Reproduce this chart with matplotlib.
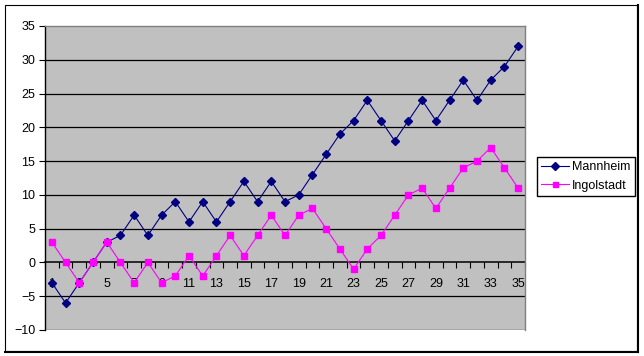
import matplotlib
matplotlib.use("Agg")

import matplotlib.pyplot as plt
from matplotlib.patches import Rectangle
import numpy as np

plt.rcParams["font.family"] = ["Liberation Sans", "DejaVu Sans"]

categories = list(range(1, 36))
mannheim = [-3, -6, -3, 0, 3, 4, 7, 4, 7, 9, 6, 9, 6, 9, 12, 9, 12, 9, 10, 13,
            16, 19, 21, 24, 21, 18, 21, 24, 21, 24, 27, 24, 27, 29, 32]
ingolstadt = [3, 0, -3, 0, 3, 0, -3, 0, -3, -2, 1, -2, 1, 4, 1, 4, 7, 4, 7, 8,
              5, 2, -1, 2, 4, 7, 10, 11, 8, 11, 14, 15, 17, 14, 11]
y_ticks = list(range(-10, 36, 5))

W, H = 644, 356
fig = plt.figure(figsize=(W / 100, H / 100), dpi=100)
ax = fig.add_axes([45 / W, (H - 330) / H, 480 / W, 304 / H])
ax.set_facecolor("#C0C0C0")

# outer chart frame with a slightly heavier right/bottom edge
fig.patches.append(Rectangle((5 / W, 5 / H), 632 / W, 346 / H, transform=fig.transFigure,
                             fill=False, edgecolor="black", linewidth=0.8))
fig.lines.append(plt.Line2D([637.5 / W, 637.5 / W], [4 / H, 351 / H], transform=fig.transFigure,
                            color="black", linewidth=1.5))
fig.lines.append(plt.Line2D([5 / W, 638 / W], [4.5 / H, 4.5 / H], transform=fig.transFigure,
                            color="black", linewidth=1.5))

for y in y_ticks:
    if y != 0 and y != y_ticks[-1]:
        ax.axhline(y, color="black", linewidth=0.9, zorder=1)

ax.plot(categories, mannheim, color="#000080", marker="D", markersize=4.5,
        linewidth=0.8, label="Mannheim", zorder=3)
ax.plot(categories, ingolstadt, color="#FF00FF", marker="s", markersize=4.5,
        linewidth=0.8, label="Ingolstadt", zorder=3)

ax.set_xlim(0.5, 35.5)
ax.set_ylim(-10, 35)

ax.spines["bottom"].set_position(("data", 0))
ax.spines["bottom"].set_linewidth(1.1)
ax.spines["bottom"].set_zorder(2)
ax.spines["left"].set_linewidth(1.0)
for side in ("top", "right"):
    ax.spines[side].set_color("#808080")
    ax.spines[side].set_linewidth(1.0)

ax.set_yticks(y_ticks)
ax.tick_params(axis="y", direction="out", length=4, width=0.8, pad=3, labelsize=9)

ax.set_xticks(np.arange(0.5, 36, 1.0))
ax.set_xticklabels([])
ax.set_xticks(categories[::2], minor=True)
ax.set_xticklabels([str(c) for c in categories[::2]], minor=True)
ax.tick_params(axis="x", which="major", direction="out", length=4, width=0.8)
ax.tick_params(axis="x", which="minor", length=0, pad=11, labelsize=9)

fig.legend(loc="upper left", bbox_to_anchor=(537 / W, 1 - 157 / H), bbox_transform=fig.transFigure,
           fontsize=9, frameon=True, fancybox=False, edgecolor="black", framealpha=1,
           handlelength=2.2, borderpad=0.35, labelspacing=0.5, handletextpad=0.25,
           borderaxespad=0, markerscale=0.8)

fig.savefig("out.png", dpi=100)
